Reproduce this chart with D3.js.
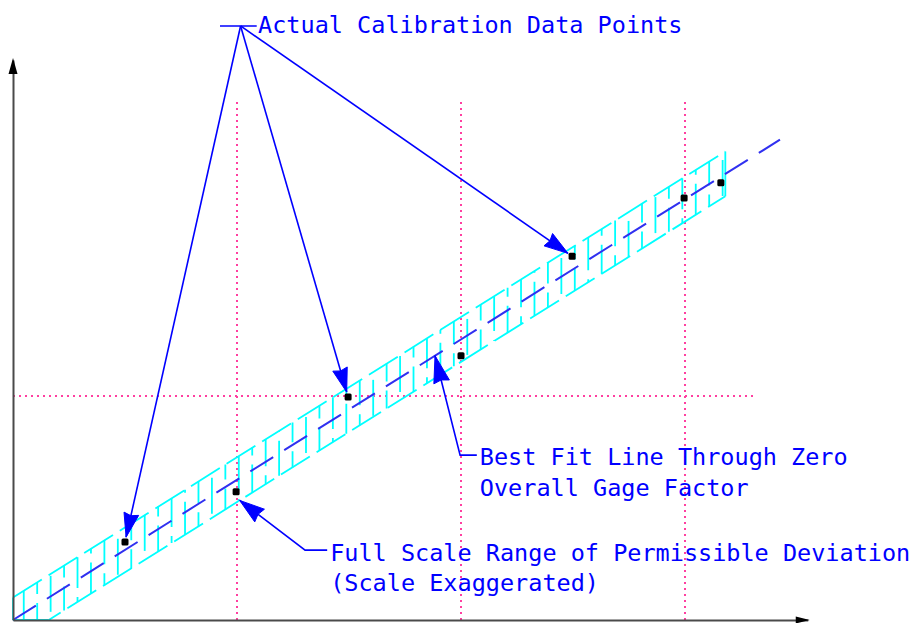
<!DOCTYPE html>
<html><head><meta charset="utf-8">
<script src="https://cdn.jsdelivr.net/npm/d3@7"></script>
<style>body{margin:0;background:#fff}svg{display:block}</style>
</head><body>
<svg id="c" width="914" height="623"></svg>
<script>
// ---- data (chart units) ----
const pointX = [12.5, 24.9, 37.4, 50.0, 62.4, 74.9, 79.0];
const pointY = [8.7, 14.3, 24.9, 29.5, 40.6, 47.1, 48.8];
const gridX = [25, 50, 75];
const gridY = [25];
const labelActual = ["Actual Calibration Data Points"];
const labelFit = ["Best Fit Line Through Zero", "Overall Gage Factor"];
const labelBand = ["Full Scale Range of Permissible Deviation", "(Scale Exaggerated)"];
const arrowTargets = [0, 2, 4];
const bandHalf = 2.5;     // permissible deviation (exaggerated)
const bandEnd = 79.5;
const fitEnd = 85.6;
const axisXEnd = 88.7, axisYEnd = 62.5;
const gridTop = 58.0, gridRight = 82.8;

const svg = d3.select("#c");
const x = d3.scaleLinear([0, 100], [13, 909]);
const y = d3.scaleLinear([0, 100], [620, -276]);

// best fit slope through zero
const k = d3.sum(pointX, (v, i) => v * pointY[i]) / d3.sum(pointX, v => v * v);

const BLUE = "#0000ff", CYAN = "#00ffff", PINK = "#ff3fa0";

// ---- grid (dotted) ----
svg.append("g").selectAll("line").data(gridX).join("line")
  .attr("x1", d => x(d)).attr("x2", d => x(d))
  .attr("y1", y(0)).attr("y2", y(gridTop))
  .attr("stroke", PINK).attr("stroke-width", 2).attr("stroke-dasharray", "2,4");
svg.append("g").selectAll("line").data(gridY).join("line")
  .attr("x1", x(0)).attr("x2", x(gridRight))
  .attr("y1", d => y(d)).attr("y2", d => y(d))
  .attr("stroke", PINK).attr("stroke-width", 2).attr("stroke-dasharray", "2,4");

// ---- band ----
const band = svg.append("g").attr("stroke", CYAN).attr("stroke-width", 1.8).attr("fill", "none");
const x0 = bandHalf / k;
const line = d3.line().x(d => x(d[0])).y(d => y(d[1]));
band.append("path").attr("d", line([[0, 0], [0, bandHalf]]));
band.append("path").attr("d", line([[0, 0], [x0, 0]]));
band.append("path").attr("d", line([[0, bandHalf], [bandEnd, k * bandEnd + bandHalf]])).attr("stroke-dasharray", "34,8");
band.append("path").attr("d", line([[x0, 0], [bandEnd, k * bandEnd - bandHalf]])).attr("stroke-dasharray", "34,8").attr("stroke-dashoffset", 20);
band.append("path").attr("d", line([[bandEnd, k * bandEnd - bandHalf], [bandEnd, k * bandEnd + bandHalf]]));
const hatch = d3.range(1.2, bandEnd, 1.5);
band.selectAll("path.h").data(hatch).join("path").attr("class", "h")
  .attr("d", d => line([[d, Math.max(0, k * d - bandHalf)], [d, k * d + bandHalf]]))
  .attr("stroke-dasharray", "36,9")
  .attr("stroke-dashoffset", (d, i) => (i * 19) % 45);

// ---- best fit line ----
svg.append("path").attr("d", line([[0, 0], [fitEnd, k * fitEnd]]))
  .attr("stroke", "#3030f0").attr("stroke-width", 2).attr("fill", "none")
  .attr("stroke-dasharray", "27,13");

// ---- axes ----
const yAx = d3.scaleLinear([0, axisYEnd], [y(0), y(axisYEnd)]);
const xAx = d3.scaleLinear([0, axisXEnd], [x(0), x(axisXEnd)]);
svg.append("g").attr("transform", `translate(${x(0)},0)`)
  .call(d3.axisLeft(yAx).tickValues([]).tickSizeOuter(0));
svg.append("g").attr("transform", `translate(0,${y(0)})`)
  .call(d3.axisBottom(xAx).tickValues([]).tickSizeOuter(0));
svg.selectAll(".domain").attr("stroke", "#4a4a4a").attr("stroke-width", 2);
// axis arrowheads
svg.append("path").attr("fill", "#000")
  .attr("d", `M${x(0)},${y(axisYEnd) - 2} L${x(0) - 4.5},${y(axisYEnd) + 14} L${x(0) + 4.5},${y(axisYEnd) + 14}Z`);
svg.append("path").attr("fill", "#000")
  .attr("d", `M${x(axisXEnd) + 2},${y(0)} L${x(axisXEnd) - 12},${y(0) - 3.5} L${x(axisXEnd) - 12},${y(0) + 3.5}Z`);

// ---- annotations ----
const ann = svg.append("g").attr("stroke", BLUE).attr("stroke-width", 1.6).attr("fill", "none");
function arrowHead(tx, ty, fx, fy, len = 24, w = 15) {
  const dx = tx - fx, dy = ty - fy, L = Math.hypot(dx, dy);
  const ux = dx / L, uy = dy / L;
  const bx = tx - ux * len, by = ty - uy * len;
  svg.append("path").attr("fill", BLUE).attr("stroke", BLUE).attr("stroke-width", 1)
    .attr("d", `M${tx},${ty} L${bx - uy * w / 2},${by + ux * w / 2} L${bx + ux * 2},${by + uy * 2} L${bx + uy * w / 2},${by - ux * w / 2}Z`);
}
// Actual calibration data points
const hub = [25.4, 66.3];
ann.append("path").attr("d", line([[23.1, hub[1]], [27.2, hub[1]]]));
arrowTargets.forEach(i => {
  const hx = x(hub[0]), hy = y(hub[1]);
  const px = x(pointX[i]), py = y(pointY[i]);
  const L = Math.hypot(px - hx, py - hy);
  const tx = px - (px - hx) / L * 5, ty = py - (py - hy) / L * 5;
  ann.append("path").attr("d", `M${hx},${hy} L${tx},${ty}`);
  arrowHead(tx, ty, hx, hy);
});
// Best fit
const fitTipX = 47.1, fitElbow = [49.9, 18.4], fitTextX = 52.1;
{
  const tx = x(fitTipX), ty = y(k * fitTipX);
  ann.append("path").attr("d", `M${tx},${ty} L${x(fitElbow[0])},${y(fitElbow[1])} L${x(fitTextX) - 3},${y(fitElbow[1])}`);
  arrowHead(tx, ty, x(fitElbow[0]), y(fitElbow[1]), 27, 16);
}
// Band
const bandTipX = 25.3, bandElbow = [32.6, 7.8], bandTextX = 35.4;
{
  const tx = x(bandTipX), ty = y(k * bandTipX - bandHalf);
  ann.append("path").attr("d", `M${tx},${ty} L${x(bandElbow[0])},${y(bandElbow[1])} L${x(bandTextX) - 3},${y(bandElbow[1])}`);
  arrowHead(tx, ty, x(bandElbow[0]), y(bandElbow[1]), 25, 16);
}

// ---- points ----
svg.append("g").selectAll("rect").data(pointX).join("rect")
  .attr("x", (d) => x(d) - 3.5).attr("y", (d, i) => y(pointY[i]) - 3.5)
  .attr("width", 7).attr("height", 7).attr("rx", 1.5).attr("fill", "#000");

// ---- text ----
const txt = svg.append("g").attr("fill", BLUE)
  .style("font-family", "'DejaVu Sans Mono', 'Liberation Mono', monospace").style("font-size", "23.5px");
function label(lines, tx, baselines) {
  lines.forEach((s, i) => txt.append("text").attr("x", x(tx)).attr("y", y(baselines[i])).text(s));
}
label(labelActual, 27.35, [65.5]);
label(labelFit, fitTextX, [17.3, 13.85]);
label(labelBand, bandTextX, [6.6, 3.25]);
</script>
</body></html>
